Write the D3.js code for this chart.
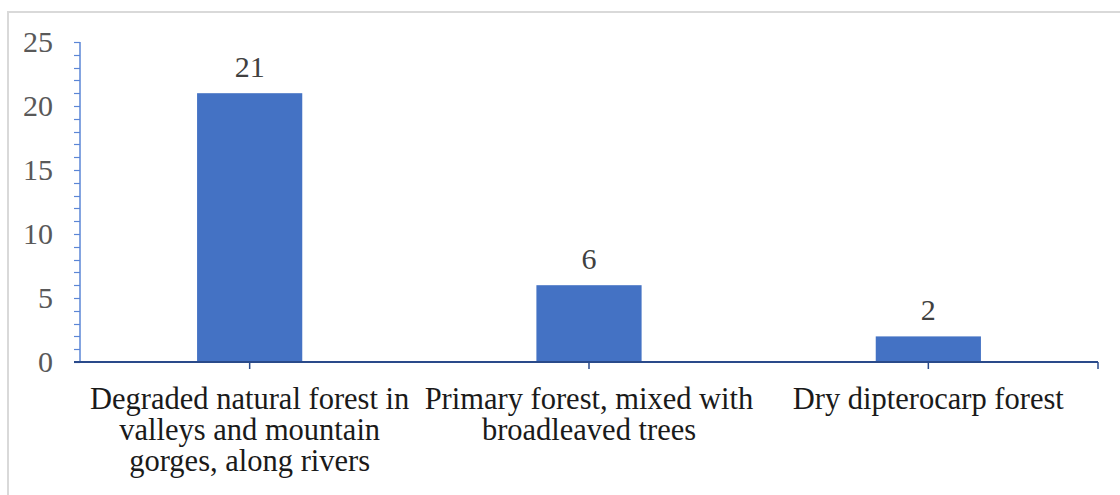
<!DOCTYPE html>
<html>
<head>
<meta charset="utf-8">
<script src="https://cdn.jsdelivr.net/npm/d3@7"></script>
<style>
  html, body { margin: 0; padding: 0; background: #fff; }
  svg { display: block; }
</style>
</head>
<body>
<svg id="chart" width="1120" height="495"></svg>
<script>
// Forest type categories (each entry is the wrapped label lines)
const categories = [
  ["Degraded natural forest in", "valleys and mountain", "gorges, along rivers"],
  ["Primary forest, mixed with", "broadleaved trees"],
  ["Dry dipterocarp forest"]
];
const counts = [21, 6, 2];
const yTicks = [0, 5, 10, 15, 20, 25];

const W = 1120, H = 495;
const margin = { left: 80, right: 22, top: 42, bottom: 133 };
const svg = d3.select("#chart");

// outer chart frame
svg.append("rect")
  .attr("x", 8).attr("y", 12)
  .attr("width", W).attr("height", H)
  .attr("fill", "none")
  .attr("stroke", "#d9d9d9")
  .attr("stroke-width", 2);

const keys = categories.map((c, i) => i);
const x = d3.scaleBand()
  .domain(keys)
  .range([margin.left, W - margin.right])
  .paddingInner(0.69)
  .paddingOuter(0.345);

const y = d3.scaleLinear()
  .domain([0, 25])
  .range([H - margin.bottom, margin.top]);

const font = "'Liberation Serif', 'Times New Roman', serif";

// bars
svg.append("g").selectAll("rect")
  .data(counts)
  .join("rect")
  .attr("x", (d, i) => x(i))
  .attr("y", d => y(d))
  .attr("width", x.bandwidth())
  .attr("height", d => y(0) - y(d))
  .attr("fill", "#4472c4");

// value labels above bars
svg.append("g").selectAll("text")
  .data(counts)
  .join("text")
  .attr("x", (d, i) => x(i) + x.bandwidth() / 2)
  .attr("y", d => y(d) - 16)
  .attr("text-anchor", "middle")
  .attr("font-family", font)
  .attr("font-size", 30)
  .attr("fill", "#404040")
  .text(d => d);

// y axis: line with minor ticks at every unit
const yAxis = svg.append("g");
yAxis.append("line")
  .attr("x1", margin.left).attr("x2", margin.left)
  .attr("y1", y(25)).attr("y2", y(0))
  .attr("stroke", "#5b86d6").attr("stroke-width", 1.5);
yAxis.selectAll("line.minor")
  .data(d3.range(0, 26))
  .join("line")
  .attr("class", "minor")
  .attr("x1", margin.left - 6).attr("x2", margin.left)
  .attr("y1", d => Math.round(y(d)) + 0.5).attr("y2", d => Math.round(y(d)) + 0.5)
  .attr("stroke", "#5b86d6").attr("stroke-width", 1.2);
yAxis.selectAll("text")
  .data(yTicks)
  .join("text")
  .attr("x", 53)
  .attr("y", d => y(d))
  .attr("dy", "0.33em")
  .attr("text-anchor", "end")
  .attr("font-family", font)
  .attr("font-size", 30)
  .attr("fill", "#595959")
  .text(d => d);

// x axis line with ticks at category centers and right end
const xAxis = svg.append("g");
const x0 = margin.left, x1 = W - margin.right, yb = y(0);
xAxis.append("line")
  .attr("x1", x0 - 6).attr("x2", x1)
  .attr("y1", yb).attr("y2", yb)
  .attr("stroke", "#2a4a8a").attr("stroke-width", 2);
xAxis.selectAll("line.tick")
  .data(keys)
  .join("line")
  .attr("class", "tick")
  .attr("x1", d => x(d) + x.bandwidth() / 2)
  .attr("x2", d => x(d) + x.bandwidth() / 2)
  .attr("y1", yb).attr("y2", yb + 7)
  .attr("stroke", "#2a4a8a").attr("stroke-width", 1.5);
xAxis.append("line")
  .attr("x1", x1).attr("x2", x1)
  .attr("y1", yb).attr("y2", yb + 7)
  .attr("stroke", "#2a4a8a").attr("stroke-width", 1.5);

// category labels
const labels = svg.append("g").selectAll("text")
  .data(categories)
  .join("text")
  .attr("text-anchor", "middle")
  .attr("font-family", font)
  .attr("font-size", 30.5)
  .attr("fill", "#1a1a1a");
labels.each(function(lines, i) {
  const cx = x(i) + x.bandwidth() / 2;
  d3.select(this).selectAll("tspan")
    .data(lines)
    .join("tspan")
    .attr("x", cx)
    .attr("y", (d, j) => 409 + j * 31)
    .text(d => d);
});
</script>
</body>
</html>
